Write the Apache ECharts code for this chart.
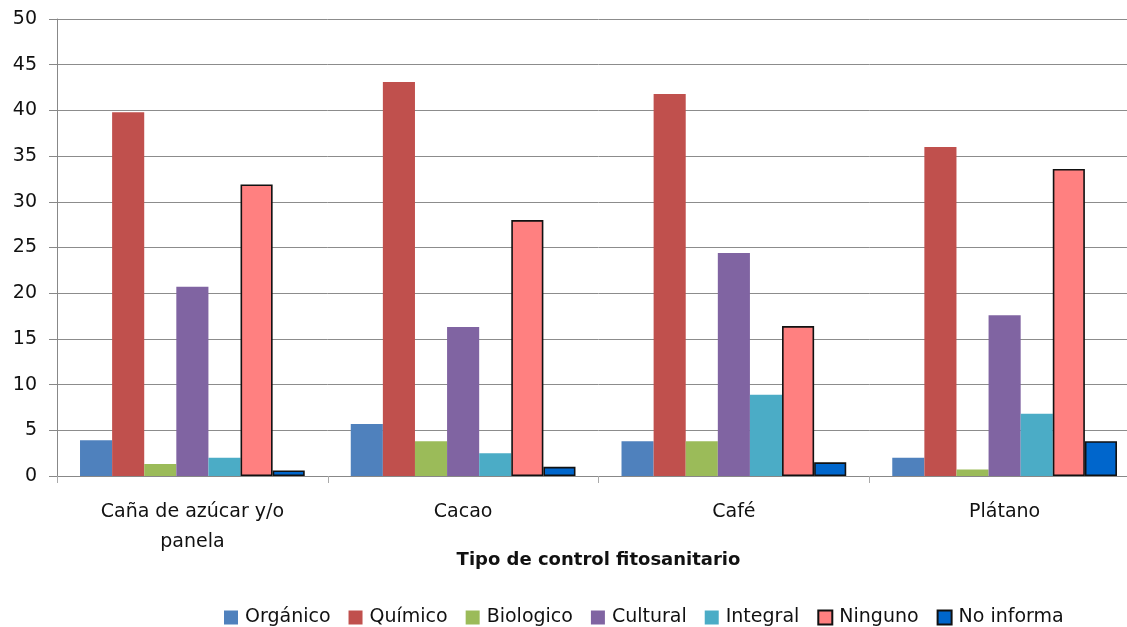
<!DOCTYPE html>
<html>
<head>
<meta charset="utf-8">
<script src="https://cdn.jsdelivr.net/npm/echarts@6/dist/echarts.min.js"></script>
<style>
  html, body { margin: 0; padding: 0; background: #fff; overflow: hidden; }
  #chart { width: 1140px; height: 627px; }
</style>
</head>
<body>
<div id="chart"></div>
<script>
// datos
var categorias = ['Caña de azúcar y/o\npanela', 'Cacao', 'Café', 'Plátano'];
var organico   = [3.9, 5.7, 3.8, 2.0];
var quimico    = [39.8, 43.1, 41.8, 36.0];
var biologico  = [1.3, 3.8, 3.8, 0.7];
var cultural   = [20.7, 16.3, 24.4, 17.6];
var integral   = [2.0, 2.5, 8.9, 6.8];
var ninguno    = [31.9, 28.0, 16.4, 33.6];
var noInforma  = [0.6, 1.0, 1.5, 3.8];
var yTicks = [0, 5, 10, 15, 20, 25, 30, 35, 40, 45, 50];

var fuente = 'DejaVu Sans';

function serie(nombre, datos, color, borde) {
  return {
    name: nombre,
    type: 'bar',
    data: datos,
    barGap: '0%',
    barCategoryGap: '17%',
    itemStyle: {
      color: color,
      borderColor: borde ? '#111' : color,
      borderWidth: borde ? 1.6 : 0
    }
  };
}

var myChart = echarts.init(document.getElementById('chart'));
myChart.setOption({
  animation: false,
  textStyle: { fontFamily: fuente },
  grid: { left: 57, top: 19, right: 0, height: 457, containLabel: false },
  legend: {
    top: 603,
    left: 219,
    icon: 'rect',
    itemWidth: 14,
    itemHeight: 14,
    itemGap: 18,
    textStyle: { fontSize: 19, color: '#111', fontFamily: fuente, padding: [0, 0, 0, 2] }
  },
  xAxis: {
    type: 'category',
    data: categorias,
    name: 'Tipo de control fitosanitario',
    nameLocation: 'middle',
    nameGap: 75,
    nameMoveOverlap: false,
    nameTextStyle: { fontSize: 18, fontWeight: 'bold', color: '#111', fontFamily: fuente },
    axisLine: { lineStyle: { color: '#888' } },
    axisTick: { show: true, length: 7, lineStyle: { color: '#aaa' } },
    axisLabel: { fontSize: 19, color: '#111', margin: 21, lineHeight: 30 }
  },
  yAxis: {
    type: 'value',
    min: yTicks[0],
    max: yTicks[yTicks.length - 1],
    interval: 5,
    axisLine: { show: true, lineStyle: { color: '#888' } },
    axisTick: { show: true, length: 8, lineStyle: { color: '#888' } },
    axisLabel: { fontSize: 19, color: '#111', margin: 20 },
    splitLine: { lineStyle: { color: '#8c8c8c' } }
  },
  series: [
    serie('Orgánico', organico, '#4F81BD'),
    serie('Químico', quimico, '#C0504D'),
    serie('Biologico', biologico, '#9BBB59'),
    serie('Cultural', cultural, '#8064A2'),
    serie('Integral', integral, '#4BACC6'),
    serie('Ninguno', ninguno, '#FF8080', true),
    serie('No informa', noInforma, '#0066CC', true)
  ]
});
</script>
</body>
</html>
